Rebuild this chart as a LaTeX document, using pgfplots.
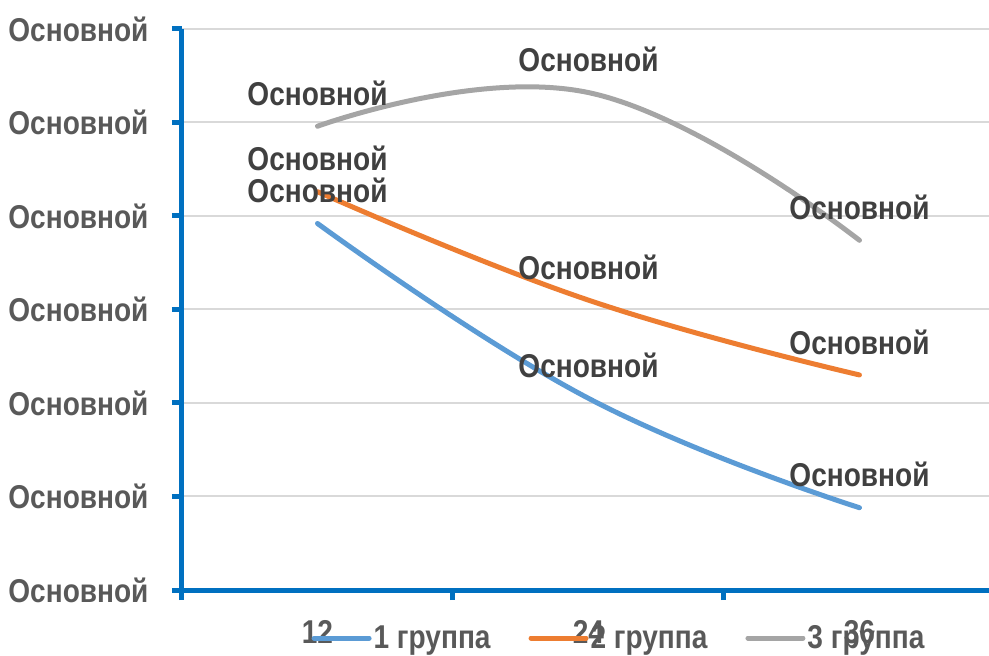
\documentclass[border=0pt]{standalone}
\usepackage{fontspec}
\setmainfont{Liberation Sans}[FakeStretch=0.85]
\usepackage{pgfplots}
\pgfplotsset{compat=1.18}
\definecolor{axblue}{HTML}{0070C0}
\definecolor{sA}{HTML}{5B9BD5}
\definecolor{sB}{HTML}{ED7D31}
\definecolor{sC}{HTML}{A5A5A5}
\definecolor{gridgray}{HTML}{D9D9D9}
\definecolor{labgray}{HTML}{595959}
\definecolor{valgray}{HTML}{404040}
\newcommand{\lblfont}{\bfseries\fontsize{33}{37}\selectfont}

\begin{document}
\begin{tikzpicture}
\begin{axis}[
  name=ax,
  width=807pt, height=561pt, scale only axis,
  xmin=-0.5, xmax=2.478, ymin=0, ymax=6,
  clip=false,
  axis x line=bottom, axis y line=left,
  axis line style={-, draw=axblue, line width=5pt},
  tick align=outside,
  major tick length=10pt,
  tick style={draw=axblue, line width=5pt},
  xtick={-0.5,0.5,1.5,2.5}, xticklabels={},
  extra x ticks={0,1,2}, extra x tick labels={12,24,36},
  extra x tick style={major tick length=0pt, grid=none,
    tick label style={yshift=-27pt}},
  ytick={0,1,2,3,4,5,6},
  yticklabels={Основной,Основной,Основной,Основной,Основной,Основной,Основной},
  yticklabel style={xshift=-20pt},
  tick label style={font=\lblfont, text=labgray},
  ymajorgrids,
  grid style={draw=gridgray, line width=2pt},
  every axis plot/.append style={line width=5pt, line cap=round, smooth, tension=0.75},
  nodes near coords={Основной},
  every node near coord/.append style={anchor=center, yshift=33pt,
    font=\lblfont, text=valgray},
  legend columns=3,
  legend style={at={(0.5415,-0.0856)}, anchor=center, draw=none, fill=none,
    font=\lblfont, text=labgray,
    /tikz/every even column/.append style={column sep=36pt}},
  legend image code/.code={\draw[#1, line width=5pt, line cap=round] (0pt,0pt) -- (55pt,0pt);},
]
\addplot[sA] coordinates {(0,3.92) (1,2.05) (2,0.88)};
\addlegendentry{1 группа}
\addplot[sB] coordinates {(0,4.26) (1,3.10) (2,2.30)};
\addlegendentry{2 группа}
\addplot[sC] coordinates {(0,4.96) (1,5.32) (2,3.74)};
\addlegendentry{3 группа}
\end{axis}
\pgfresetboundingbox
\path[use as bounding box] ([xshift=-182pt,yshift=-65pt]ax.south west) rectangle ([yshift=29pt]ax.north east);
\end{tikzpicture}
\end{document}
